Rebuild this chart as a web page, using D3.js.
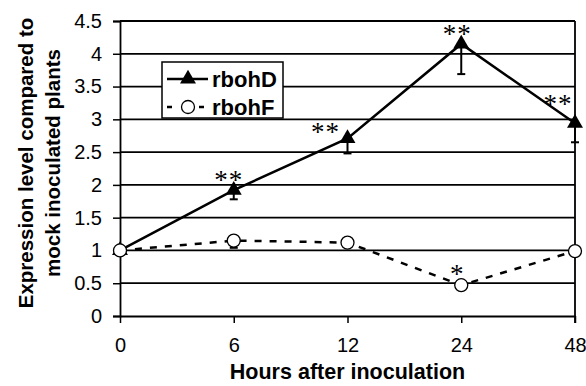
<!DOCTYPE html>
<html>
<head>
<meta charset="utf-8">
<script src="https://cdn.jsdelivr.net/npm/d3@7"></script>
<style>
  body { margin: 0; background: #fff; }
  svg { display: block; font-family: Arial, 'Liberation Sans', sans-serif; }
</style>
</head>
<body>
<div id="chart"></div>
<script>
const hours = ['0', '6', '12', '24', '48']
const rbohD = [1.0, 1.92, 2.71, 4.15, 2.94]
const rbohDLow = [1.0, 1.78, 2.48, 3.69, 2.65]
const rbohF = [1.0, 1.15, 1.12, 0.47, 0.99]
const rbohFLow = [1.0, 1.04, 1.12, 0.47, 0.99]
const rbohDStars = ['', '**', '**', '**', '**']
const rbohFStars = ['', '', '', '*', '']
const yTicks = [0, 0.5, 1, 1.5, 2, 2.5, 3, 3.5, 4, 4.5]

// where the stars sit next to their points (px)
const dStarOffset = [[0, 0], [-5, -14], [-22, -10], [-4, -14], [-17, -23]]
const fStarOffset = [[0, 0], [0, 0], [0, 0], [-4, -15], [0, 0]]

const width = 586
const height = 386
const margin = { top: 21, right: 11, bottom: 70, left: 120 }

const svg = d3.select('#chart').append('svg')
  .attr('width', width)
  .attr('height', height)

const x = d3.scalePoint()
  .domain(hours)
  .range([margin.left, width - margin.right])
  .padding(0)

const y = d3.scaleLinear()
  .domain([0, 4.5])
  .range([height - margin.bottom, margin.top])

// gridlines
svg.append('g')
  .selectAll('line')
  .data(yTicks.filter(d => d > 0))
  .enter()
  .append('line')
  .attr('x1', x.range()[0])
  .attr('x2', x.range()[1])
  .attr('y1', d => y(d))
  .attr('y2', d => y(d))
  .attr('stroke', '#000')
  .attr('stroke-width', 1.8)

// right frame line
svg.append('line')
  .attr('x1', x.range()[1])
  .attr('x2', x.range()[1])
  .attr('y1', y(4.5))
  .attr('y2', y(0) + 7)
  .attr('stroke', '#000')
  .attr('stroke-width', 1.8)

const yAxis = svg.append('g')
  .attr('transform', `translate(${margin.left},0)`)
  .call(d3.axisLeft(y).tickValues(yTicks).tickSize(7).tickPadding(11).tickFormat(d => d))
yAxis.select('.domain').attr('stroke-width', 1.8)
yAxis.selectAll('line').attr('stroke-width', 1.5)
yAxis.selectAll('text').attr('font-size', 20).attr('fill', '#000')

const xAxis = svg.append('g')
  .attr('transform', `translate(0,${y(0)})`)
  .call(d3.axisBottom(x).tickSize(7).tickPadding(15).tickSizeOuter(0))
xAxis.select('.domain').attr('stroke-width', 1.8)
xAxis.selectAll('line').attr('stroke-width', 1.5)
xAxis.selectAll('text').attr('font-size', 20).attr('fill', '#000')

const lineGen = d3.line()
  .x((d, i) => x(hours[i]))
  .y(d => y(d))

// rbohF dashed line
svg.append('path')
  .datum(rbohF)
  .attr('d', lineGen)
  .attr('fill', 'none')
  .attr('stroke', '#000')
  .attr('stroke-width', 2.5)
  .attr('stroke-dasharray', '7,8')

// rbohD solid line
svg.append('path')
  .datum(rbohD)
  .attr('d', lineGen)
  .attr('fill', 'none')
  .attr('stroke', '#000')
  .attr('stroke-width', 2.5)

const drawErrors = (values, lows) => {
  const g = svg.append('g').attr('stroke', '#000').attr('stroke-width', 2)
  values.forEach((v, i) => {
    if (lows[i] >= v) return
    const cx = x(hours[i])
    g.append('line').attr('x1', cx).attr('x2', cx).attr('y1', y(v)).attr('y2', y(lows[i]))
    g.append('line').attr('x1', cx - 4).attr('x2', cx + 4).attr('y1', y(lows[i])).attr('y2', y(lows[i]))
  })
}
drawErrors(rbohD, rbohDLow)
drawErrors(rbohF, rbohFLow)

const triangle = d3.symbol().type(d3.symbolTriangle).size(110)

svg.append('g')
  .selectAll('path')
  .data(rbohD)
  .enter()
  .append('path')
  .attr('d', triangle)
  .attr('transform', (d, i) => `translate(${x(hours[i])},${y(d)})`)
  .attr('fill', '#000')

svg.append('g')
  .selectAll('circle')
  .data(rbohF)
  .enter()
  .append('circle')
  .attr('cx', (d, i) => x(hours[i]))
  .attr('cy', d => y(d))
  .attr('r', 6.5)
  .attr('fill', '#fff')
  .attr('stroke', '#000')
  .attr('stroke-width', 1.3)

const drawStars = (values, stars, offsets) => {
  svg.append('g')
    .selectAll('text')
    .data(values)
    .enter()
    .append('text')
    .attr('x', (d, i) => x(hours[i]) + offsets[i][0])
    .attr('y', (d, i) => y(d) + offsets[i][1] + 13)
    .attr('text-anchor', 'middle')
    .attr('font-family', "'Liberation Serif', 'Times New Roman', serif")
    .attr('font-size', 27)
    .attr('letter-spacing', 1)
    .attr('fill', '#000')
    .text((d, i) => stars[i])
}
drawStars(rbohD, rbohDStars, dStarOffset)
drawStars(rbohF, rbohFStars, fStarOffset)

// legend
const legend = svg.append('g').attr('transform', 'translate(162,62)')
legend.append('rect')
  .attr('width', 121)
  .attr('height', 56)
  .attr('fill', '#fff')
  .attr('stroke', '#000')
  .attr('stroke-width', 1.5)

legend.append('line')
  .attr('x1', 5).attr('x2', 46).attr('y1', 17).attr('y2', 17)
  .attr('stroke', '#000').attr('stroke-width', 2.5)
legend.append('path')
  .attr('d', triangle)
  .attr('transform', 'translate(26,17)')
legend.append('line')
  .attr('x1', 5).attr('x2', 46).attr('y1', 45).attr('y2', 45)
  .attr('stroke', '#000').attr('stroke-width', 2.5).attr('stroke-dasharray', '5,11')
legend.append('circle')
  .attr('cx', 26).attr('cy', 45).attr('r', 6.5)
  .attr('fill', '#fff').attr('stroke', '#000').attr('stroke-width', 1.3)

legend.selectAll('text.key')
  .data(['rbohD', 'rbohF'])
  .enter()
  .append('text')
  .attr('class', 'key')
  .attr('x', 50)
  .attr('y', (d, i) => 25 + i * 28)
  .attr('font-size', 22)
  .attr('font-weight', 'bold')
  .text(d => d)

// axis titles
svg.append('text')
  .attr('x', (x.range()[0] + x.range()[1]) / 2)
  .attr('y', 379)
  .attr('text-anchor', 'middle')
  .attr('font-size', 21.5)
  .attr('font-weight', 'bold')
  .text('Hours after inoculation')

const yTitle = svg.append('text')
  .attr('transform', 'translate(0,163) rotate(-90)')
  .attr('text-anchor', 'middle')
  .attr('font-size', 20.5)
  .attr('font-weight', 'bold')
yTitle.append('tspan').attr('x', 0).attr('y', 33).text('Expression level compared to')
yTitle.append('tspan').attr('x', 0).attr('y', 60).text('mock inoculated plants')
</script>
</body>
</html>
